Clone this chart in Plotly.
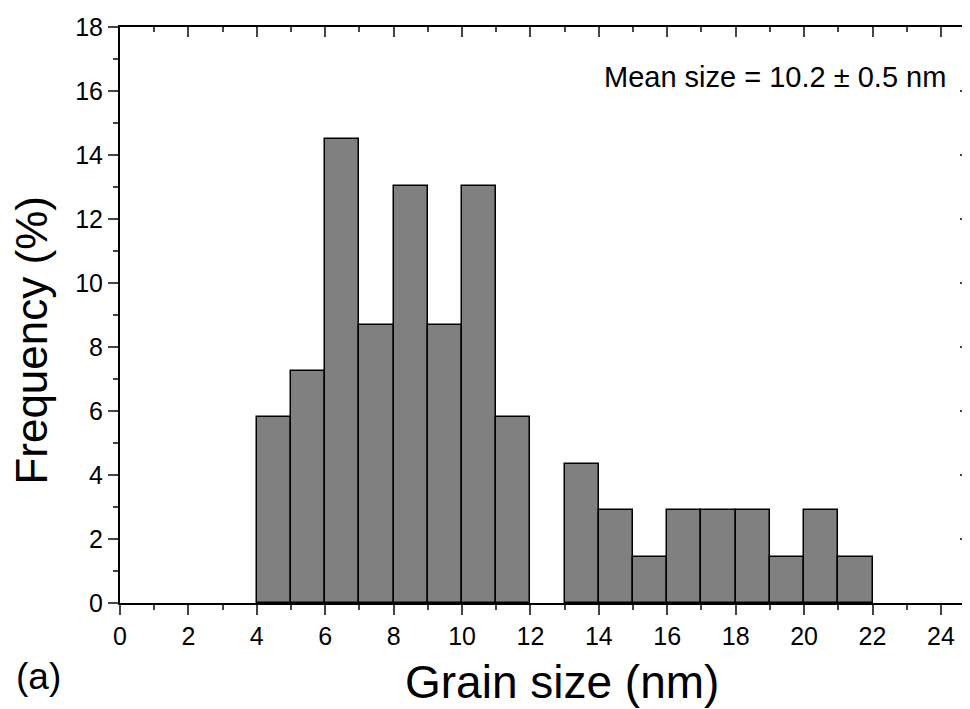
import plotly.graph_objects as go

# Histogram data (bin left edges in nm, frequency in %)
bin_left = [4, 5, 6, 7, 8, 9, 10, 11, 12, 13, 14, 15, 16, 17, 18, 19, 20, 21]
freq = [5.80, 7.25, 14.49, 8.70, 13.04, 8.70, 13.04, 5.80, 0.0, 4.35, 2.90, 1.45,
        2.90, 2.90, 2.90, 1.45, 2.90, 1.45]
bin_width = 1.0
x_ticks = [0, 2, 4, 6, 8, 10, 12, 14, 16, 18, 20, 22, 24]
y_ticks = [0, 2, 4, 6, 8, 10, 12, 14, 16, 18]

FONT = "Liberation Sans, Arial, sans-serif"
centers = [b + bin_width / 2 for b in bin_left]
outline_w = [1.5 if v > 0 else 0 for v in freq]

fig = go.Figure()
fig.add_trace(go.Bar(
    x=centers, y=freq, width=bin_width,
    marker=dict(color="#808080", line=dict(color="black", width=outline_w)),
    showlegend=False, hoverinfo="x+y",
))
# invisible trace to activate mirrored (top/right) axes
fig.add_trace(go.Scatter(x=[None], y=[None], xaxis="x2", yaxis="y2",
                         showlegend=False, hoverinfo="skip"))

xr = [0, 24.85]
yr = [0, 18]
# page body has an 8px default margin, so the figure is 962x701 placed at (8, 8)
fig.update_layout(
    width=962, height=701,
    margin=dict(l=112, r=0, t=19, b=106),
    paper_bgcolor="white", plot_bgcolor="white",
    font=dict(family=FONT, color="black"),
    bargap=0,
    xaxis=dict(range=xr, tickvals=x_ticks, ticks="outside", ticklen=10, tickwidth=2,
               showline=True, linewidth=2, linecolor="black", showgrid=False, zeroline=False,
               tickfont=dict(size=25, family=FONT),
               minor=dict(dtick=1, tick0=0, ticks="outside", ticklen=5, tickwidth=2,
                          showgrid=False)),
    yaxis=dict(range=yr, tickvals=y_ticks, ticks="outside", ticklen=10, tickwidth=2,
               showline=True, linewidth=2, linecolor="black", showgrid=False, zeroline=False,
               tickfont=dict(size=25, family=FONT),
               minor=dict(dtick=1, tick0=0, ticks="outside", ticklen=5, tickwidth=2,
                          showgrid=False)),
    xaxis2=dict(range=xr, overlaying="x", side="top", tickvals=x_ticks, ticks="inside",
                ticklen=10, tickwidth=2, showticklabels=False, showline=True, linewidth=2,
                linecolor="black", showgrid=False, zeroline=False,
                minor=dict(dtick=1, tick0=0, ticks="inside", ticklen=5, tickwidth=2,
                           showgrid=False)),
    yaxis2=dict(range=yr, overlaying="y", side="right", tickvals=y_ticks, ticks="inside",
                ticklen=10, tickwidth=2, showticklabels=False, showline=False,
                showgrid=False, zeroline=False,
                minor=dict(dtick=1, tick0=0, ticks="inside", ticklen=5, tickwidth=2,
                           showgrid=False)),
    annotations=[
        dict(text="Grain size (nm)", xref="paper", yref="paper", x=0.52, y=-0.137,
             xanchor="center", yanchor="middle", showarrow=False,
             font=dict(size=46, family=FONT)),
        dict(text="Frequency (%)", xref="paper", yref="paper", x=-0.104, y=0.4566,
             xanchor="center", yanchor="middle", textangle=-90, showarrow=False,
             font=dict(size=44, family=FONT)),
        dict(text="(a)", xref="paper", yref="paper", x=-0.125, y=-0.128,
             xanchor="left", yanchor="middle", showarrow=False,
             font=dict(size=37, family=FONT)),
        dict(text="Mean size = 10.2 ± 0.5 nm", xref="paper", yref="paper", x=0.974, y=0.913,
             xanchor="right", yanchor="middle", showarrow=False,
             font=dict(size=29, family=FONT)),
    ],
)

fig.write_html("out.html")
